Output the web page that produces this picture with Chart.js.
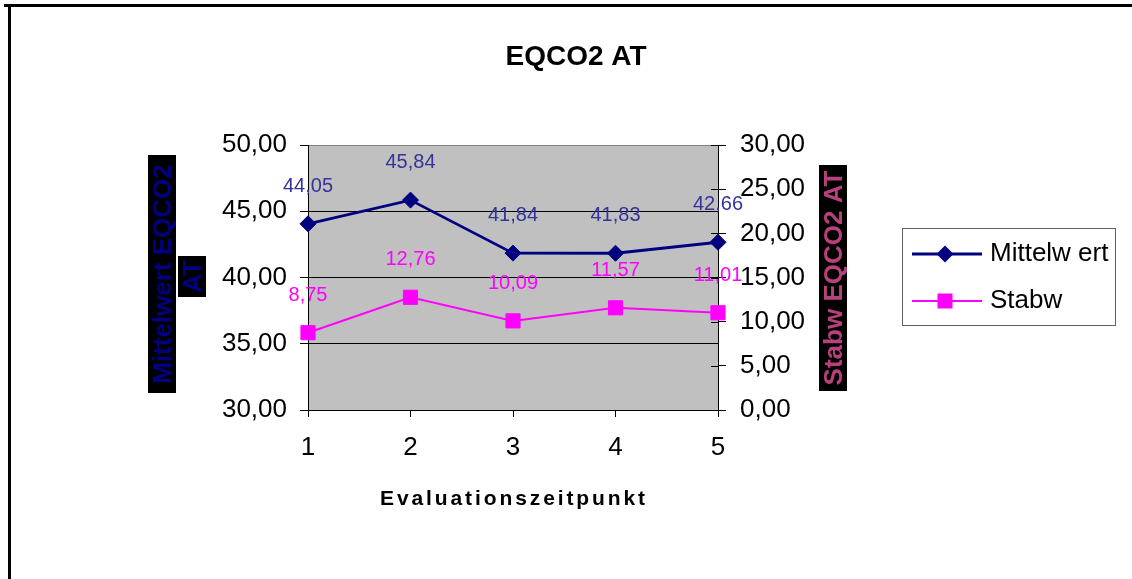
<!DOCTYPE html>
<html>
<head>
<meta charset="utf-8">
<script src="https://cdn.jsdelivr.net/npm/chart.js@4/dist/chart.umd.min.js"></script>
<style>
  html, body { margin: 0; padding: 0; background: #fff; }
  #wrap { width: 1132px; height: 579px; }
</style>
</head>
<body>
<div id="wrap"><canvas id="chart" width="1132" height="579"></canvas></div>
<script>
const categories = ['1', '2', '3', '4', '5'];
const mittelwert = [44.05, 45.84, 41.84, 41.83, 42.66];
const stabw = [8.75, 12.76, 10.09, 11.57, 11.01];
const leftTicks = [30, 35, 40, 45, 50];
const rightTicks = [0, 5, 10, 15, 20, 25, 30];

const FONT = "'Liberation Sans', Arial, sans-serif";
const fmt = v => v.toFixed(2).replace('.', ',');

// vertical axis title on a black box, like the old Excel export
function boxedTitle(ctx, text, cx, cy, color, minLen) {
    ctx.save();
    ctx.translate(cx, cy);
    ctx.rotate(-Math.PI / 2);
    ctx.font = 'bold 26px ' + FONT;
    const w = Math.max(ctx.measureText(text).width + 8, minLen || 0);
    ctx.fillStyle = '#000';
    ctx.fillRect(-w / 2, -14, w, 28);
    ctx.fillStyle = color;
    ctx.textAlign = 'center';
    ctx.textBaseline = 'alphabetic';
    ctx.fillText(text, 0, 9);
    ctx.restore();
}

function marker(ctx, style, x, y, color) {
    ctx.fillStyle = color;
    ctx.strokeStyle = color;
    ctx.beginPath();
    if (style === 'rectRot') {
        ctx.moveTo(x, y - 8.5); ctx.lineTo(x + 8.5, y); ctx.lineTo(x, y + 8.5); ctx.lineTo(x - 8.5, y);
    } else {
        ctx.rect(x - 7.5, y - 7.5, 15, 15);
    }
    ctx.closePath();
    ctx.fill();
}

const excelLook = {
    id: 'excelLook',
    beforeDraw(chart) {
        const { ctx, chartArea: a } = chart;
        ctx.save();
        ctx.fillStyle = '#fff';
        ctx.fillRect(0, 0, chart.width, chart.height);
        ctx.fillStyle = '#c0c0c0';
        ctx.fillRect(a.left, a.top, a.right - a.left, a.bottom - a.top);
        ctx.strokeStyle = '#000';
        ctx.lineWidth = 3;
        ctx.beginPath();
        ctx.moveTo(4, 5.5); ctx.lineTo(chart.width, 5.5);
        ctx.moveTo(9.5, 5); ctx.lineTo(9.5, chart.height);
        ctx.stroke();
        ctx.restore();
    },
    afterDatasetsDraw(chart) {
        const ctx = chart.ctx;
        ctx.save();
        ctx.font = '20px ' + FONT;
        ctx.textAlign = 'center';
        ctx.textBaseline = 'alphabetic';
        chart.data.datasets.forEach((ds, i) => {
            ctx.fillStyle = ds.labelColor;
            chart.getDatasetMeta(i).data.forEach((pt, j) => {
                ctx.fillText(fmt(ds.data[j]), pt.x, pt.y - 32);
            });
        });
        ctx.restore();
    },
    afterDraw(chart) {
        const { ctx, chartArea: a } = chart;
        ctx.save();

        // small inner ticks on the right axis
        const y1 = chart.scales.y1;
        ctx.strokeStyle = '#000';
        ctx.lineWidth = 1;
        ctx.beginPath();
        y1.ticks.forEach(t => {
            const py = Math.round(y1.getPixelForValue(t.value)) + 0.5;
            ctx.moveTo(a.right - 7, py); ctx.lineTo(a.right, py);
        });
        ctx.stroke();

        // chart title
        ctx.fillStyle = '#000';
        ctx.textAlign = 'center';
        ctx.textBaseline = 'alphabetic';
        ctx.font = 'bold 28px ' + FONT;
        ctx.fillText('EQCO2 AT', 576, 65);

        // x axis title
        ctx.font = 'bold 21px ' + FONT;
        ctx.letterSpacing = '2.9px';
        ctx.fillText('Evaluationszeitpunkt', (a.left + a.right) / 2 + 1, 505);
        ctx.letterSpacing = '0px';

        // y axis titles
        boxedTitle(ctx, 'Mittelwert EQCO2', 162, 274, '#000080', 238);
        boxedTitle(ctx, 'AT', 192, 276.5, '#000080', 41);
        boxedTitle(ctx, 'Stabw EQCO2 AT', 833, 278, '#b8407c', 226);

        // legend
        ctx.strokeStyle = '#606060';
        ctx.lineWidth = 1;
        ctx.strokeRect(902.5, 228.5, 213, 97);
        const rows = [254, 301];
        const bases = [261, 308];
        chart.data.datasets.forEach((ds, i) => {
            ctx.strokeStyle = ds.borderColor;
            ctx.lineWidth = ds.borderWidth;
            ctx.beginPath();
            ctx.moveTo(912, rows[i]); ctx.lineTo(982, rows[i]);
            ctx.stroke();
            marker(ctx, ds.pointStyle, 945, rows[i], ds.backgroundColor);
            ctx.fillStyle = '#000';
            ctx.font = '26px ' + FONT;
            ctx.textAlign = 'left';
            ctx.fillText(ds.label, 990, bases[i]);
        });
        ctx.restore();
    }
};

const tickFont = { family: FONT, size: 26 };

new Chart(document.getElementById('chart'), {
    type: 'line',
    data: {
        labels: categories,
        datasets: [{
            label: 'Mittelw ert',
            data: mittelwert,
            yAxisID: 'y',
            borderColor: '#000080',
            backgroundColor: '#000080',
            borderWidth: 2.8,
            pointStyle: 'rectRot',
            pointRadius: 8,
            pointBorderWidth: 1,
            tension: 0,
            labelColor: '#333399'
        }, {
            label: 'Stabw',
            data: stabw,
            yAxisID: 'y1',
            borderColor: '#ff00ff',
            backgroundColor: '#ff00ff',
            borderWidth: 2,
            pointStyle: 'rect',
            pointRadius: 10,
            pointBorderWidth: 1,
            tension: 0,
            labelColor: '#ff00ff'
        }]
    },
    options: {
        responsive: false,
        animation: false,
        devicePixelRatio: 1,
        layout: { padding: { top: 145, left: 0, right: 0, bottom: 0 } },
        plugins: {
            legend: { display: false },
            title: { display: false },
            tooltip: { enabled: false }
        },
        scales: {
            x: {
                offset: false,
                grid: { drawOnChartArea: false, color: '#000', tickLength: 7 },
                border: { color: '#000', width: 1 },
                ticks: { color: '#000', font: tickFont, padding: 15, maxRotation: 0 },
                afterFit: s => { s.height = 169; }
            },
            y: {
                position: 'left',
                min: 30,
                max: 50,
                afterBuildTicks: s => { s.ticks = leftTicks.map(v => ({ value: v })); },
                ticks: { color: '#000', font: tickFont, padding: 13, callback: v => fmt(v) },
                grid: {
                    color: c => (c.tick && c.tick.value === 50) ? '#808080' : '#000',
                    tickColor: '#000',
                    tickLength: 8
                },
                border: { color: '#000', width: 1 },
                afterFit: s => { s.width = 308; }
            },
            y1: {
                position: 'right',
                min: 0,
                max: 30,
                afterBuildTicks: s => { s.ticks = rightTicks.map(v => ({ value: v })); },
                ticks: { color: '#000', font: tickFont, padding: 14, callback: v => fmt(v) },
                grid: { drawOnChartArea: false, color: '#000', tickLength: 8 },
                border: { color: '#000', width: 1 },
                afterFit: s => { s.width = 414; }
            }
        }
    },
    plugins: [excelLook]
});
</script>
</body>
</html>
